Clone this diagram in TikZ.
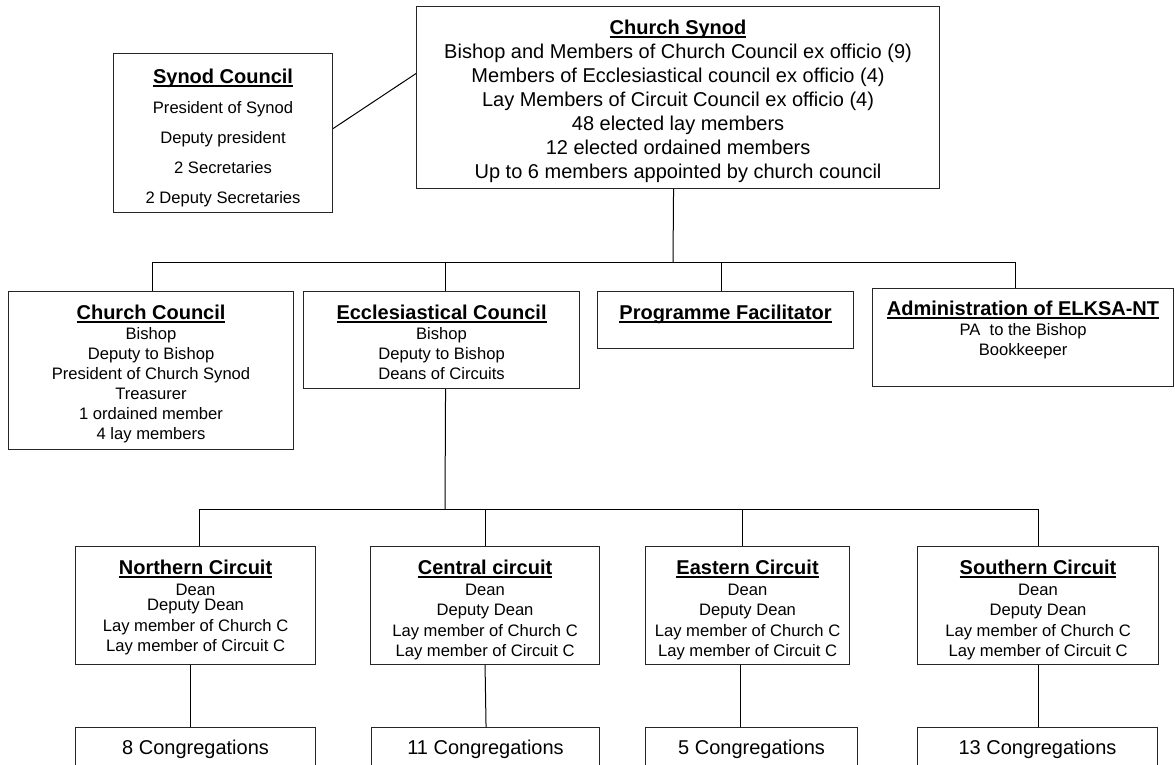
\documentclass[tikz,border=0pt]{standalone}
\usepackage{fontspec}
\setmainfont{Liberation Sans}
\usetikzlibrary{positioning}

% bold underlined heading
\newcommand{\hd}[1]{\setbox0\hbox{\bfseries\fontsize{20}{20}\selectfont #1}\rlap{\rule[-3.2pt]{\wd0}{1.7pt}}\box0}
% box contents: width, height, first baseline, text
\newcommand{\bx}[4]{\parbox[c][#2][t]{#1}{\centering\rule{0pt}{#3}#4}}

\begin{document}
\begin{tikzpicture}[x=1pt,y=-1pt,
  orgbox/.style={draw=black!85,line width=1.1pt,inner sep=0pt,anchor=north west,
    font=\fontsize{16.6}{20}\selectfont},
  link/.style={draw=black,line width=1pt}]
\useasboundingbox (0,0) rectangle (1175,764);
\clip (0,0) rectangle (1175,764);

% top
\node[orgbox,font=\fontsize{20}{24}\selectfont] (synod) at (416,6)
  {\bx{523pt}{182pt}{28pt}{\hd{Church Synod}\\ Bishop and Members of Church Council ex officio (9)\\
   Members of Ecclesiastical council ex officio (4)\\ Lay Members of Circuit Council ex officio (4)\\
   48 elected lay members\\ 12 elected ordained members\\ Up to 6 members appointed by church council}};
\node[orgbox,font=\fontsize{16.6}{30}\selectfont] (synodcouncil) at (113,53)
  {\bx{219pt}{159pt}{30pt}{\hd{Synod Council}\\ President of Synod\\ Deputy president\\ 2 Secretaries\\ 2 Deputy Secretaries}};

% councils
\node[orgbox] (chcouncil) at (8,291)
  {\bx{285pt}{158pt}{28pt}{\hd{Church Council}\\ Bishop\\ Deputy to Bishop\\ President of Church Synod\\ Treasurer\\ 1 ordained member\\ 4 lay members}};
\node[orgbox] (eccl) at (303,291)
  {\bx{276pt}{97pt}{28pt}{\hd{Ecclesiastical Council}\\ Bishop\\ Deputy to Bishop\\ Deans of Circuits}};
\node[orgbox] (prog) at (597,291)
  {\bx{256pt}{57pt}{28pt}{\hd{Programme Facilitator}}};
\node[orgbox] (admin) at (872,288)
  {\bx{301pt}{98pt}{27pt}{\hd{Administration of ELKSA-NT}\\ PA\ \ to the Bishop\\ Bookkeeper}};

% circuits
\node[orgbox,font=\fontsize{16.6}{20.5}\selectfont] (ncirc) at (75,546)
  {\bx{240pt}{118pt}{28pt}{\hd{Northern Circuit}\\ Dean\\[-5pt] Deputy Dean\\ Lay member of Church C\\ Lay member of Circuit C}};
\node[orgbox,font=\fontsize{16.6}{20.5}\selectfont] (ccirc) at (370,546)
  {\bx{229pt}{118pt}{28pt}{\hd{Central circuit}\\ Dean\\ Deputy Dean\\ Lay member of Church C\\ Lay member of Circuit C}};
\node[orgbox,font=\fontsize{16.6}{20.5}\selectfont] (ecirc) at (645,546)
  {\bx{204pt}{118pt}{28pt}{\hd{Eastern Circuit}\\ Dean\\ Deputy Dean\\ Lay member of Church C\\ Lay member of Circuit C}};
\node[orgbox,font=\fontsize{16.6}{20.5}\selectfont] (scirc) at (917,546)
  {\bx{241pt}{118pt}{28pt}{\hd{Southern Circuit}\\ Dean\\ Deputy Dean\\ Lay member of Church C\\ Lay member of Circuit C}};

% congregations
\node[orgbox,font=\fontsize{20}{24}\selectfont] (ncong) at (75,727) {\bx{240pt}{60pt}{27pt}{8 Congregations}};
\node[orgbox,font=\fontsize{20}{24}\selectfont] (ccong) at (371,727) {\bx{228pt}{60pt}{27pt}{11 Congregations}};
\node[orgbox,font=\fontsize{20}{24}\selectfont] (econg) at (645,727) {\bx{212pt}{60pt}{27pt}{5 Congregations}};
\node[orgbox,font=\fontsize{20}{24}\selectfont] (scong) at (917,727) {\bx{240pt}{60pt}{27pt}{13 Congregations}};

% lines
\draw[link] ([yshift=4.5pt]synodcouncil.east) -- ([yshift=24pt]synod.west);
\coordinate (bus1) at (673,262);
\draw[link] ([xshift=-4.5pt]synod.south) -- (bus1);
\draw[link] (bus1) -| ([xshift=1.5pt]chcouncil.north);
\draw[link] (bus1) -| ([xshift=4pt]eccl.north);
\draw[link] (bus1) -| ([xshift=-4pt]prog.north);
\draw[link] (bus1) -| ([xshift=-7.5pt]admin.north);

\coordinate (bus2) at (445,509);
\draw[link] ([xshift=4pt]eccl.south) -- (bus2);
\draw[link] (bus2) -| ([xshift=4pt]ncirc.north);
\draw[link] (bus2) -| (ccirc.north);
\draw[link] (bus2) -| ([xshift=-5pt]ecirc.north);
\draw[link] (bus2) -| (scirc.north);

\draw[link] ([xshift=-5pt]ncirc.south) -- ([xshift=-5pt]ncong.north);
\draw[link] (ccirc.south) -- ([xshift=0.5pt]ccong.north);
\draw[link] ([xshift=-7pt]ecirc.south) -- ([xshift=-11pt]econg.north);
\draw[link] (scirc.south) -- ([xshift=0.5pt]scong.north);
\end{tikzpicture}
\end{document}
